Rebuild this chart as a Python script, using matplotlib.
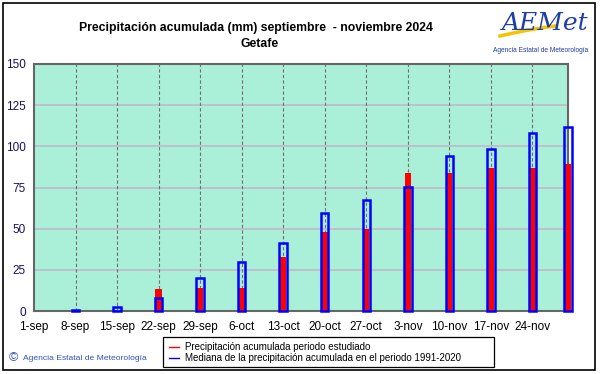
import matplotlib
matplotlib.use("Agg")
import matplotlib.pyplot as plt
from matplotlib.patches import Rectangle
from matplotlib.lines import Line2D
import numpy as np

plt.rcParams['font.family'] = ['Liberation Sans', 'DejaVu Sans']

# Data
days = [7, 14, 21, 28, 35, 42, 49, 56, 63, 70, 77, 84, 90]
observed = [0, 0, 13.4, 13.8, 13.8, 33.0, 47.8, 49.8, 83.6, 83.6, 86.6, 86.6, 89.2]
median = [0.5, 2.2, 7.7, 19.8, 29.9, 41.3, 59.3, 67.4, 75.1, 94.3, 98.4, 108.0, 111.7]
tick_days = [0, 7, 14, 21, 28, 35, 42, 49, 56, 63, 70, 77, 84]
tick_labels = ["1-sep", "8-sep", "15-sep", "22-sep", "29-sep", "6-oct", "13-oct",
               "20-oct", "27-oct", "3-nov", "10-nov", "17-nov", "24-nov"]
y_ticks = [0, 25, 50, 75, 100, 125, 150]

W, H = 601, 374
fig = plt.figure(figsize=(W / 100, H / 100), dpi=100)
fig.patch.set_facecolor("white")

ax = fig.add_axes([34 / W, 1 - 311 / H, (568 - 34) / W, (311 - 64) / H])
ax.set_facecolor("#aaf0d8")
ax.set_xlim(0, 90)
ax.set_ylim(0, 150)

# grid
for y in y_ticks[1:-1]:
    ax.axhline(y, color="#c4b8c8", lw=1.2, zorder=1)
for d in tick_days[1:]:
    ax.axvline(d, color="#707070", lw=0.8, ls=(0, (3, 2)), zorder=1)

# bars
ax.bar(days, observed, width=1.05, color="#ff0000", edgecolor="none", zorder=3, clip_on=False)
ax.bar(days, median, width=1.25, facecolor="none", edgecolor="#0000ff", lw=1.8, zorder=4,
       clip_on=False)

for s in ax.spines.values():
    s.set_color("#666666")
    s.set_linewidth(1.5)

ax.set_xticks(tick_days)
ax.set_xticklabels(tick_labels, fontsize=8.5, color="black")
ax.set_yticks(y_ticks)
ax.set_yticklabels([str(v) for v in y_ticks], fontsize=8.5, color="#1a1060")
ax.tick_params(length=0, pad=6)
ax.tick_params(axis="x", pad=7)

# title
fig.text(256 / W, 1 - 28 / H, "Precipitación acumulada (mm) septiembre  - noviembre 2024",
         ha="center", va="center", fontsize=8.8, fontweight="bold")
fig.text(260 / W, 1 - 44 / H, "Getafe", ha="center", va="center", fontsize=8.8,
         fontweight="bold")

# logo
fig.text(545 / W, 1 - 23 / H, "AEMet", ha="center", va="center", fontsize=18,
         color="#1f3fa8", style="italic", family="DejaVu Serif")
t = np.linspace(0, 1, 30)
fig.add_artist(Line2D((500 + 55 * t) / W, 1 - (36 - 13 * t + 3 * t ** 2) / H,
                      color="#f5c400", lw=2.5, transform=fig.transFigure))
fig.text(541 / W, 1 - 50 / H, "Agencia Estatal de Meteorología", ha="center", va="center",
         fontsize=4.8, color="#1f3fa8")

# legend
fig.add_artist(Rectangle((163 / W, 1 - 367 / H), (494 - 163) / W, 30 / H, facecolor="white",
                         edgecolor="black", lw=0.9, transform=fig.transFigure))
fig.add_artist(Line2D([169 / W, 179 / W], [1 - 347 / H] * 2, color="red", lw=1,
                      transform=fig.transFigure))
fig.add_artist(Line2D([169 / W, 179 / W], [1 - 358 / H] * 2, color="blue", lw=1,
                      transform=fig.transFigure))
fig.text(185 / W, 1 - 347 / H, "Precipitación acumulada periodo estudiado", va="center",
         fontsize=7.0)
fig.text(185 / W, 1 - 358 / H, "Mediana de la precipitación acumulada en el periodo 1991-2020",
         va="center", fontsize=7.0)

# copyright
fig.text(9 / W, 1 - 358 / H, "©", va="center", fontsize=9, color="#3050c0")
fig.text(23 / W, 1 - 358 / H, "Agencia Estatal de Meteorología", va="center", fontsize=6.1,
         color="#3050c0")

# outer frame
fig.add_artist(Rectangle((3 / W, 1 - 370 / H), (595 - 3) / W, (370 - 3) / H, facecolor="none",
                         edgecolor="black", lw=1.2, transform=fig.transFigure))

fig.savefig("out.png", dpi=100)
